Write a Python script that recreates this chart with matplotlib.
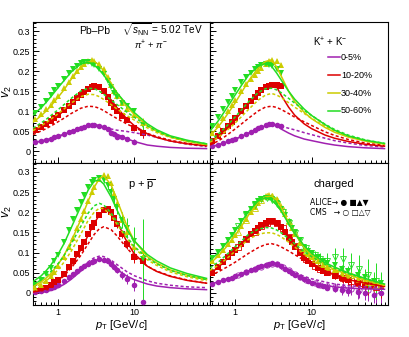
import matplotlib
matplotlib.use("Agg")
import matplotlib.pyplot as plt
from matplotlib.ticker import FixedLocator, NullFormatter, LogLocator

plt.rcParams['font.family'] = ['Liberation Sans', 'DejaVu Sans']
plt.rcParams['mathtext.fontset'] = 'custom'
plt.rcParams['mathtext.rm'] = 'Liberation Sans'
plt.rcParams['mathtext.it'] = 'Liberation Sans:italic'

centralities = ['0-5%', '10-20%', '30-40%', '50-60%']
colors = ['#a020b0', '#dd0000', '#cccc00', '#22dd22']
markers = ['o', 's', '^', 'v']

# model curve pT grid
curve_pt = [0.47, 0.6, 0.7, 0.8, 1.0, 1.2, 1.5, 2.0, 2.5, 3.0, 3.5, 4.0, 5.0, 6.0, 8.0, 10, 15, 20, 30, 50, 90]

# ---- pions ----
pi_pt = [0.5, 0.6, 0.7, 0.8, 0.9, 1.0, 1.2, 1.4, 1.6, 1.8, 2.0, 2.2, 2.5, 2.8, 3.0, 3.5, 4.0, 4.5, 5.0, 5.5, 6.0, 7.0, 8.0, 10, 13]
pi_err = [0.002] * 20 + [0.003, 0.003, 0.004, 0.006, 0.012]
pi_v2_0005 = [0.022, 0.025, 0.028, 0.031, 0.034, 0.037, 0.042, 0.047, 0.051, 0.055, 0.058, 0.061, 0.064, 0.066, 0.066, 0.063, 0.060, 0.056, 0.046, 0.042, 0.034, 0.034, 0.031, 0.023, 0.044]
pi_v2_1020 = [0.052, 0.060, 0.068, 0.076, 0.083, 0.090, 0.102, 0.113, 0.123, 0.132, 0.140, 0.147, 0.155, 0.161, 0.163, 0.160, 0.150, 0.135, 0.120, 0.111, 0.100, 0.088, 0.078, 0.057, 0.045]
pi_v2_3040 = [0.080, 0.092, 0.104, 0.116, 0.127, 0.138, 0.157, 0.173, 0.187, 0.199, 0.209, 0.217, 0.224, 0.227, 0.226, 0.218, 0.205, 0.185, 0.165, 0.150, 0.138, 0.120, 0.105, 0.090, 0.070]
pi_v2_5060 = [0.095, 0.110, 0.125, 0.140, 0.152, 0.163, 0.180, 0.194, 0.205, 0.213, 0.219, 0.222, 0.222, 0.218, 0.214, 0.205, 0.192, 0.175, 0.160, 0.145, 0.135, 0.120, 0.112, 0.100, 0.065]
pi_sol_0005 = [0.021, 0.025, 0.028, 0.031, 0.037, 0.042, 0.049, 0.058, 0.064, 0.066, 0.064, 0.060, 0.050, 0.042, 0.031, 0.024, 0.015, 0.012, 0.009, 0.007, 0.006]
pi_sol_1020 = [0.048, 0.058, 0.066, 0.074, 0.088, 0.101, 0.118, 0.140, 0.156, 0.163, 0.160, 0.151, 0.128, 0.108, 0.081, 0.064, 0.043, 0.034, 0.025, 0.018, 0.013]
pi_sol_3040 = [0.072, 0.088, 0.100, 0.112, 0.134, 0.153, 0.180, 0.210, 0.223, 0.224, 0.215, 0.200, 0.170, 0.145, 0.113, 0.092, 0.063, 0.049, 0.035, 0.024, 0.016]
pi_sol_5060 = [0.090, 0.108, 0.122, 0.135, 0.158, 0.176, 0.198, 0.218, 0.222, 0.215, 0.203, 0.190, 0.165, 0.145, 0.117, 0.097, 0.068, 0.053, 0.038, 0.027, 0.018]
pi_das_0005 = [0.020, 0.024, 0.027, 0.030, 0.036, 0.041, 0.048, 0.056, 0.061, 0.063, 0.062, 0.060, 0.055, 0.052, 0.049, 0.046, 0.040, 0.034, 0.025, 0.017, 0.011]
pi_das_1020 = [0.041, 0.050, 0.056, 0.062, 0.073, 0.082, 0.094, 0.107, 0.112, 0.111, 0.107, 0.101, 0.090, 0.081, 0.068, 0.059, 0.044, 0.036, 0.027, 0.019, 0.013]
pi_das_3040 = [0.051, 0.063, 0.071, 0.079, 0.093, 0.105, 0.120, 0.136, 0.142, 0.141, 0.136, 0.129, 0.116, 0.105, 0.089, 0.078, 0.058, 0.046, 0.034, 0.024, 0.016]
pi_das_5060 = [0.057, 0.070, 0.079, 0.088, 0.103, 0.116, 0.132, 0.150, 0.157, 0.156, 0.150, 0.142, 0.128, 0.116, 0.098, 0.085, 0.063, 0.050, 0.036, 0.026, 0.018]

# ---- kaons ----
k_pt = [0.5, 0.6, 0.7, 0.8, 0.9, 1.0, 1.2, 1.4, 1.6, 1.8, 2.0, 2.2, 2.5, 2.8, 3.0, 3.5, 4.0]
k_err = [0.002] * 14 + [0.003, 0.004, 0.005]
k_v2_0005 = [0.012, 0.016, 0.020, 0.024, 0.028, 0.031, 0.037, 0.043, 0.048, 0.053, 0.057, 0.060, 0.064, 0.067, 0.067, 0.066, 0.063]
k_v2_1020 = [0.025, 0.038, 0.050, 0.062, 0.073, 0.083, 0.099, 0.113, 0.125, 0.136, 0.145, 0.152, 0.159, 0.163, 0.165, 0.166, 0.163]
k_v2_3040 = [0.045, 0.065, 0.083, 0.100, 0.115, 0.128, 0.150, 0.167, 0.180, 0.191, 0.200, 0.208, 0.217, 0.225, 0.228, 0.226, 0.216]
k_v2_5060 = [0.062, 0.085, 0.105, 0.122, 0.138, 0.152, 0.172, 0.186, 0.196, 0.204, 0.210, 0.215, 0.218, 0.216, 0.212, 0.204, 0.196]
k_sol_0005 = [0.010, 0.015, 0.019, 0.023, 0.030, 0.036, 0.045, 0.056, 0.063, 0.067, 0.063, 0.055, 0.045, 0.038, 0.030, 0.026, 0.019, 0.015, 0.011, 0.008, 0.006]
k_sol_1020 = [0.020, 0.034, 0.046, 0.057, 0.078, 0.096, 0.118, 0.143, 0.159, 0.168, 0.160, 0.140, 0.110, 0.090, 0.068, 0.056, 0.040, 0.032, 0.024, 0.017, 0.012]
k_sol_3040 = [0.038, 0.060, 0.077, 0.093, 0.120, 0.145, 0.175, 0.207, 0.224, 0.228, 0.210, 0.188, 0.150, 0.124, 0.097, 0.081, 0.059, 0.047, 0.035, 0.025, 0.017]
k_sol_5060 = [0.050, 0.075, 0.094, 0.111, 0.140, 0.163, 0.190, 0.212, 0.219, 0.212, 0.195, 0.178, 0.150, 0.130, 0.105, 0.089, 0.066, 0.052, 0.038, 0.027, 0.019]
k_das_0005 = [0.011, 0.015, 0.019, 0.023, 0.029, 0.035, 0.043, 0.053, 0.060, 0.064, 0.064, 0.062, 0.057, 0.053, 0.046, 0.041, 0.032, 0.026, 0.020, 0.014, 0.010]
k_das_1020 = [0.015, 0.025, 0.033, 0.041, 0.055, 0.067, 0.082, 0.100, 0.110, 0.112, 0.109, 0.104, 0.094, 0.085, 0.073, 0.064, 0.048, 0.039, 0.029, 0.020, 0.014]
k_das_3040 = [0.022, 0.034, 0.044, 0.053, 0.070, 0.085, 0.104, 0.127, 0.140, 0.144, 0.140, 0.134, 0.121, 0.110, 0.094, 0.082, 0.062, 0.050, 0.037, 0.026, 0.017]
k_das_5060 = [0.026, 0.042, 0.054, 0.065, 0.085, 0.102, 0.123, 0.146, 0.156, 0.157, 0.153, 0.146, 0.132, 0.120, 0.102, 0.089, 0.067, 0.054, 0.040, 0.028, 0.019]

# ---- protons ----
p_pt = [0.5, 0.6, 0.7, 0.8, 0.9, 1.0, 1.2, 1.4, 1.6, 1.8, 2.0, 2.2, 2.5, 2.8, 3.0, 3.5, 4.0, 4.5, 5.0, 5.5, 6.0, 7.0, 8.0, 10, 13]
p_err = [0.002] * 15 + [0.003, 0.004, 0.005, 0.006, 0.007, 0.008, 0.010, 0.012, 0.015, 0.030]
p_err_5060 = [0.002] * 15 + [0.005, 0.008, 0.010, 0.012, 0.014, 0.016, 0.020, 0.025, 0.035, 0.100]
p_v2_0005 = [0.002, 0.004, 0.006, 0.011, 0.015, 0.020, 0.030, 0.040, 0.048, 0.055, 0.061, 0.066, 0.072, 0.077, 0.080, 0.083, 0.082, 0.078, 0.071, 0.064, 0.057, 0.045, 0.035, 0.020, -0.023]
p_v2_1020 = [0.004, 0.008, 0.013, 0.019, 0.026, 0.033, 0.048, 0.064, 0.080, 0.096, 0.111, 0.125, 0.145, 0.163, 0.173, 0.193, 0.205, 0.207, 0.200, 0.185, 0.170, 0.145, 0.120, 0.090, 0.078]
p_v2_3040 = [0.012, 0.020, 0.030, 0.041, 0.053, 0.066, 0.090, 0.113, 0.137, 0.160, 0.182, 0.202, 0.228, 0.250, 0.262, 0.282, 0.292, 0.290, 0.272, 0.245, 0.220, 0.180, 0.150, 0.115, 0.105]
p_v2_5060 = [0.020, 0.032, 0.046, 0.062, 0.078, 0.094, 0.125, 0.155, 0.182, 0.206, 0.226, 0.243, 0.262, 0.275, 0.280, 0.284, 0.280, 0.268, 0.250, 0.232, 0.212, 0.180, 0.160, 0.128, 0.083]
p_sol_0005 = [-0.001, 0.001, 0.003, 0.006, 0.013, 0.021, 0.034, 0.054, 0.070, 0.080, 0.083, 0.081, 0.070, 0.058, 0.042, 0.033, 0.022, 0.017, 0.013, 0.010, 0.008]
p_sol_1020 = [0.002, 0.006, 0.011, 0.017, 0.030, 0.045, 0.069, 0.107, 0.143, 0.172, 0.193, 0.205, 0.200, 0.176, 0.128, 0.098, 0.066, 0.053, 0.041, 0.031, 0.024]
p_sol_3040 = [0.016, 0.027, 0.037, 0.047, 0.070, 0.093, 0.128, 0.182, 0.228, 0.262, 0.283, 0.290, 0.268, 0.230, 0.168, 0.130, 0.090, 0.074, 0.057, 0.044, 0.033]
p_sol_5060 = [0.028, 0.042, 0.055, 0.068, 0.095, 0.122, 0.162, 0.215, 0.255, 0.277, 0.280, 0.270, 0.238, 0.205, 0.158, 0.130, 0.095, 0.079, 0.062, 0.048, 0.036]
p_das_0005 = [0.000, 0.003, 0.006, 0.009, 0.017, 0.026, 0.040, 0.061, 0.077, 0.087, 0.091, 0.090, 0.081, 0.070, 0.053, 0.043, 0.030, 0.024, 0.019, 0.015, 0.013]
p_das_1020 = [0.003, 0.008, 0.013, 0.018, 0.030, 0.042, 0.062, 0.093, 0.122, 0.145, 0.159, 0.164, 0.157, 0.141, 0.112, 0.092, 0.066, 0.054, 0.042, 0.032, 0.024]
p_das_3040 = [0.012, 0.022, 0.030, 0.039, 0.057, 0.076, 0.104, 0.146, 0.180, 0.200, 0.210, 0.209, 0.192, 0.170, 0.136, 0.112, 0.082, 0.068, 0.052, 0.040, 0.030]
p_das_5060 = [0.020, 0.032, 0.042, 0.052, 0.072, 0.092, 0.122, 0.165, 0.198, 0.216, 0.222, 0.218, 0.198, 0.176, 0.140, 0.116, 0.086, 0.072, 0.056, 0.043, 0.033]

# ---- charged hadrons, ALICE ----
ch_pt = [0.5, 0.6, 0.7, 0.8, 0.9, 1.0, 1.2, 1.4, 1.6, 1.8, 2.0, 2.2, 2.5, 2.8, 3.0, 3.5, 4.0, 4.5, 5.0, 5.5, 6.0, 7.0, 8.0, 9.0, 10, 12, 14, 16, 20, 25, 30, 40, 50, 65, 80]
ch_err = [0.002] * 24 + [0.003, 0.004, 0.005, 0.006, 0.008, 0.010, 0.012, 0.015, 0.018, 0.022, 0.026]
ch_v2_0005 = [0.023, 0.027, 0.031, 0.035, 0.038, 0.041, 0.047, 0.052, 0.056, 0.060, 0.064, 0.067, 0.070, 0.072, 0.073, 0.071, 0.066, 0.060, 0.054, 0.049, 0.044, 0.040, 0.034, 0.029, 0.025, 0.020, 0.016, 0.013, 0.010, 0.006, 0.004, 0.001, 0.000, -0.004, 0.000]
ch_v2_1020 = [0.050, 0.064, 0.076, 0.088, 0.098, 0.107, 0.121, 0.134, 0.145, 0.154, 0.162, 0.168, 0.174, 0.178, 0.178, 0.174, 0.164, 0.150, 0.137, 0.125, 0.115, 0.098, 0.087, 0.078, 0.071, 0.062, 0.055, 0.050, 0.043, 0.037, 0.032, 0.025, 0.020, 0.016, 0.014]
ch_v2_3040 = [0.079, 0.093, 0.107, 0.120, 0.132, 0.144, 0.165, 0.184, 0.200, 0.213, 0.224, 0.232, 0.239, 0.242, 0.241, 0.232, 0.215, 0.196, 0.177, 0.160, 0.146, 0.124, 0.108, 0.097, 0.089, 0.078, 0.070, 0.064, 0.056, 0.048, 0.043, 0.035, 0.030, 0.025, 0.020]
ch_v2_5060 = [0.087, 0.102, 0.117, 0.131, 0.144, 0.156, 0.177, 0.195, 0.209, 0.220, 0.228, 0.233, 0.236, 0.235, 0.232, 0.222, 0.208, 0.192, 0.175, 0.162, 0.150, 0.130, 0.115, 0.105, 0.098, 0.088, 0.080, 0.075, 0.068, 0.060, 0.055, 0.045, 0.040, 0.030, 0.025]

# ---- charged hadrons, CMS ----
cms_pt = [1.1, 1.4, 1.8, 2.2, 2.6, 3.0, 3.5, 4.2, 5.0, 6.0, 7.0, 8.5, 11, 13, 16, 20, 26, 33, 42, 55, 70]
cms_err = [0.002] * 9 + [0.003, 0.003, 0.004, 0.005, 0.006, 0.008, 0.010, 0.013, 0.016, 0.020, 0.025, 0.030]
cms_err_5060 = [0.002] * 9 + [0.004, 0.005, 0.007, 0.010, 0.014, 0.018, 0.022, 0.026, 0.030, 0.034, 0.040, 0.045]
cms_v2_0005 = [0.044, 0.051, 0.059, 0.065, 0.070, 0.072, 0.071, 0.065, 0.056, 0.047, 0.040, 0.032, 0.024, 0.020, 0.016, 0.014, 0.012, 0.010, 0.008, 0.006, 0.005]
cms_v2_1020 = [0.113, 0.133, 0.152, 0.166, 0.174, 0.177, 0.173, 0.160, 0.138, 0.117, 0.101, 0.085, 0.067, 0.059, 0.052, 0.045, 0.038, 0.030, 0.025, 0.020, 0.015]
cms_v2_3040 = [0.150, 0.180, 0.210, 0.230, 0.240, 0.240, 0.231, 0.208, 0.178, 0.148, 0.126, 0.104, 0.083, 0.074, 0.065, 0.058, 0.050, 0.045, 0.035, 0.028, 0.020]
cms_v2_5060 = [0.165, 0.192, 0.218, 0.232, 0.236, 0.231, 0.220, 0.200, 0.173, 0.148, 0.130, 0.112, 0.093, 0.085, 0.080, 0.090, 0.085, 0.070, 0.060, 0.045, 0.030]
ch_sol_0005 = [0.022, 0.027, 0.031, 0.035, 0.041, 0.047, 0.054, 0.064, 0.070, 0.073, 0.071, 0.066, 0.055, 0.046, 0.034, 0.027, 0.019, 0.015, 0.012, 0.010, 0.009]
ch_sol_1020 = [0.048, 0.063, 0.075, 0.086, 0.105, 0.120, 0.139, 0.160, 0.173, 0.178, 0.173, 0.162, 0.137, 0.117, 0.090, 0.074, 0.054, 0.044, 0.033, 0.024, 0.016]
ch_sol_3040 = [0.073, 0.091, 0.105, 0.118, 0.142, 0.164, 0.193, 0.224, 0.238, 0.240, 0.230, 0.212, 0.175, 0.148, 0.113, 0.093, 0.070, 0.058, 0.045, 0.032, 0.019]
ch_sol_5060 = [0.080, 0.099, 0.114, 0.128, 0.153, 0.175, 0.202, 0.228, 0.236, 0.230, 0.218, 0.203, 0.172, 0.148, 0.117, 0.098, 0.075, 0.064, 0.050, 0.036, 0.022]
ch_das_0005 = [0.022, 0.027, 0.031, 0.035, 0.041, 0.047, 0.054, 0.063, 0.069, 0.071, 0.070, 0.067, 0.058, 0.051, 0.041, 0.035, 0.027, 0.022, 0.018, 0.015, 0.013]
ch_das_1020 = [0.043, 0.052, 0.059, 0.065, 0.076, 0.086, 0.098, 0.112, 0.120, 0.122, 0.119, 0.114, 0.104, 0.095, 0.081, 0.071, 0.055, 0.046, 0.035, 0.025, 0.015]
ch_das_3040 = [0.056, 0.068, 0.078, 0.087, 0.103, 0.117, 0.133, 0.145, 0.149, 0.149, 0.145, 0.139, 0.126, 0.114, 0.096, 0.084, 0.066, 0.056, 0.044, 0.032, 0.019]
ch_das_5060 = [0.062, 0.076, 0.087, 0.097, 0.114, 0.128, 0.145, 0.158, 0.162, 0.161, 0.156, 0.149, 0.135, 0.122, 0.102, 0.090, 0.071, 0.061, 0.048, 0.035, 0.021]

W, H = 409, 337
fig = plt.figure(figsize=(W / 100, H / 100), dpi=100)

x0, xm, x1 = 33 / W, 210 / W, 388 / W
yb, ymid, yt = 1 - 305 / H, 1 - 163 / H, 1 - 22.3 / H
axes = {
    'pi': fig.add_axes([x0, ymid, xm - x0, yt - ymid]),
    'k': fig.add_axes([xm, ymid, x1 - xm, yt - ymid]),
    'p': fig.add_axes([x0, yb, xm - x0, ymid - yb]),
    'ch': fig.add_axes([xm, yb, x1 - xm, ymid - yb]),
}

panels = {
    'pi': (pi_pt, [pi_v2_0005, pi_v2_1020, pi_v2_3040, pi_v2_5060], [pi_err] * 4,
           [pi_sol_0005, pi_sol_1020, pi_sol_3040, pi_sol_5060],
           [pi_das_0005, pi_das_1020, pi_das_3040, pi_das_5060]),
    'k': (k_pt, [k_v2_0005, k_v2_1020, k_v2_3040, k_v2_5060], [k_err] * 4,
          [k_sol_0005, k_sol_1020, k_sol_3040, k_sol_5060],
          [k_das_0005, k_das_1020, k_das_3040, k_das_5060]),
    'p': (p_pt, [p_v2_0005, p_v2_1020, p_v2_3040, p_v2_5060], [p_err, p_err, p_err, p_err_5060],
          [p_sol_0005, p_sol_1020, p_sol_3040, p_sol_5060],
          [p_das_0005, p_das_1020, p_das_3040, p_das_5060]),
    'ch': (ch_pt, [ch_v2_0005, ch_v2_1020, ch_v2_3040, ch_v2_5060], [ch_err] * 4,
           [ch_sol_0005, ch_sol_1020, ch_sol_3040, ch_sol_5060],
           [ch_das_0005, ch_das_1020, ch_das_3040, ch_das_5060]),
}
cms_series = [cms_v2_0005, cms_v2_1020, cms_v2_3040, cms_v2_5060]
cms_errs = [cms_err, cms_err, cms_err, cms_err_5060]

for key, ax in axes.items():
    pt, v2s, errs, sols, dass = panels[key]
    for i in range(4):
        ax.errorbar(pt, v2s[i], yerr=errs[i], fmt=markers[i], color=colors[i],
                    ms=4, mew=0, elinewidth=0.7, capsize=0, zorder=3)
        if key == 'ch':
            ax.errorbar(cms_pt, cms_series[i], yerr=cms_errs[i], fmt=markers[i],
                        color=colors[i], mfc='none', ms=3.8, mew=0.6,
                        elinewidth=0.7, capsize=0, zorder=3)
    for i in range(4):
        ax.plot(curve_pt, sols[i], color=colors[i], lw=1.1, zorder=4)
        ax.plot(curve_pt, dass[i], color=colors[i], lw=1.1, ls=(0, (2, 1.5)), zorder=4)

    ax.set_xscale('log')
    ax.set_xlim(0.47, 100)
    ax.set_ylim(-0.03, 0.322)
    ax.xaxis.set_major_locator(FixedLocator([1, 10]))
    ax.xaxis.set_minor_locator(LogLocator(base=10, subs=range(2, 10)))
    ax.xaxis.set_minor_formatter(NullFormatter())
    ax.yaxis.set_major_locator(FixedLocator([0, 0.05, 0.1, 0.15, 0.2, 0.25, 0.3]))
    ax.yaxis.set_minor_locator(FixedLocator([i / 100 for i in range(-3, 33)]))
    ax.tick_params(which='both', direction='in', top=False, right=False, width=0.7)
    ax.tick_params(which='major', length=4.5, labelsize=6.5, pad=2)
    ax.tick_params(which='minor', length=2.2)
    for s in ax.spines.values():
        s.set_linewidth(0.8)
    if key in ('pi', 'p'):
        ax.set_yticklabels(['0', '0.05', '0.1', '0.15', '0.2', '0.25', '0.3'])
    else:
        ax.set_yticklabels([])
    if key in ('p', 'ch'):
        ax.set_xticklabels(['1', '10'])
        ax.set_xlabel(r'$p_{\rm T}$ [GeV/$c$]', fontsize=8, labelpad=1)
    else:
        ax.set_xticklabels([])

fig.text(7 / W, 1 - 92 / H, r'$v_{2}$', rotation=90, fontsize=9, ha='center', va='center')
fig.text(7 / W, 1 - 212 / H, r'$v_{2}$', rotation=90, fontsize=9, ha='center', va='center')

fig.text(79 / W, 1 - 31 / H, 'Pb–Pb', fontsize=7.5, va='center')
fig.text(122 / W, 1 - 30 / H, r'$\sqrt{s_{\rm NN}}$ = 5.02 TeV', fontsize=7.2, va='center')
fig.text(151 / W, 1 - 45 / H, r'$\pi^{+}$ + $\pi^{-}$', fontsize=6.8, ha='center', va='center')
fig.text(313 / W, 1 - 42 / H, r'K$^{+}$ + K$^{-}$', fontsize=7, va='center')
fig.text(128 / W, 1 - 185 / H, r'p + $\overline{\rm p}$', fontsize=8, va='center')
fig.text(313 / W, 1 - 184 / H, 'charged', fontsize=8, va='center')
fig.text(310 / W, 1 - 203 / H, 'ALICE→ ● ■▲▼', fontsize=5.5, va='center',
         family=['DejaVu Sans'])
fig.text(310 / W, 1 - 212 / H, 'CMS   → ○ □△▽', fontsize=5.5, va='center',
         family=['DejaVu Sans'])

for i, (lab, y) in enumerate(zip(centralities, [57, 75, 93, 111])):
    fig.add_artist(plt.Line2D([328 / W, 340 / W], [1 - y / H, 1 - y / H],
                              color=colors[i], lw=1.1))
    fig.text(341 / W, 1 - y / H, lab, fontsize=6.5, va='center')

fig.savefig('out.png', dpi=100)
